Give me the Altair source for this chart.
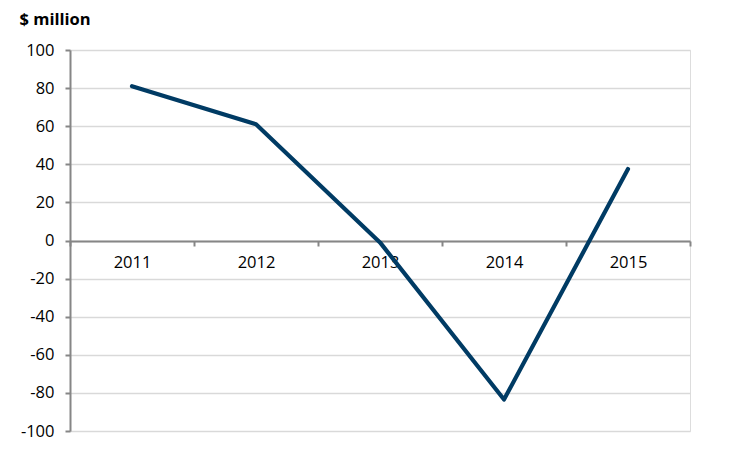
import altair as alt
import pandas as pd

years = ["2011", "2012", "2013", "2014", "2015"]
values = [81, 61, -1, -83.5, 37.5]
y_ticks = [-100, -80, -60, -40, -20, 0, 20, 40, 60, 80, 100]

df = pd.DataFrame({"year": years, "value": values})

FONT = "Open Sans"
AXIS_GREY = "#868686"

chart = alt.Chart(df).mark_line(
    color="#003B64", strokeWidth=4.2, strokeCap="round", strokeJoin="round"
).encode(
    x=alt.X(
        "year:O",
        bandPosition=0.5,
        scale=alt.Scale(type="band", paddingInner=0, paddingOuter=0),
        axis=alt.Axis(
            title=None,
            orient="bottom",
            offset=-190,
            tickBand="extent",
            domainColor=AXIS_GREY,
            domainWidth=2,
            tickColor=AXIS_GREY,
            tickWidth=2,
            tickSize=5,
            labelPadding=8,
            labelFont=FONT,
            labelFontSize=16.5,
            labelColor="#000000",
            labelAngle=0,
            grid=False,
        ),
    ),
    y=alt.Y(
        "value:Q",
        scale=alt.Scale(domain=[-100, 100], nice=False, zero=False),
        axis=alt.Axis(
            values=y_ticks,
            labelExpr="toString(datum.value)",
            title="$ million",
            titleAngle=0,
            titleAlign="left",
            titleBaseline="alphabetic",
            titleX=-51,
            titleY=-26,
            titleFont=FONT,
            titleFontSize=16.5,
            titleFontWeight="bold",
            titleColor="#000000",
            domainColor=AXIS_GREY,
            domainWidth=2,
            tickColor=AXIS_GREY,
            tickWidth=2,
            tickSize=5,
            labelPadding=11,
            labelFont=FONT,
            labelFontSize=16.5,
            labelColor="#000000",
            grid=True,
            gridColor="#D9D9D9",
            gridWidth=1.5,
        ),
    ),
).properties(
    width=620,
    height=381,
    autosize=alt.AutoSizeParams(type="none"),
    padding={"left": 62, "top": 42, "right": 37, "bottom": 17},
).configure_view(stroke=None).configure(background="#ffffff")

chart.save("out.html", embed_options={"renderer": "svg", "actions": False})
